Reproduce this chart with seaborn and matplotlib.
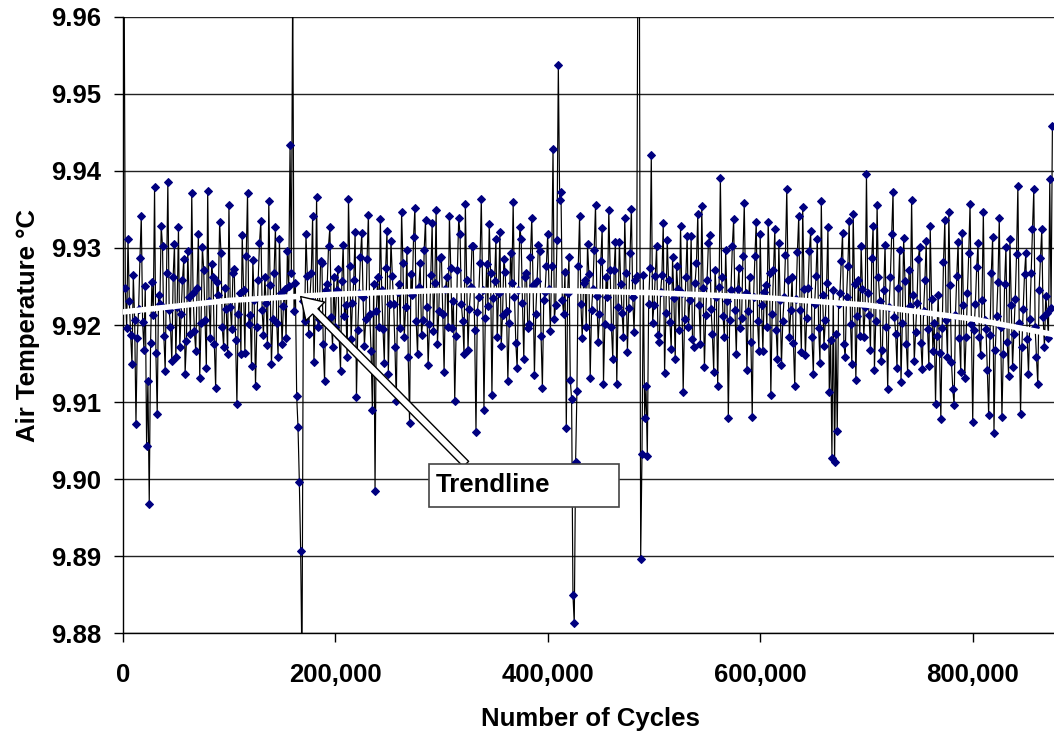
import numpy as np
import pandas as pd
import matplotlib
matplotlib.use('Agg')
import matplotlib.pyplot as plt
import matplotlib.ticker as mticker
from matplotlib.patches import Rectangle
import seaborn as sns

# sampling interval of the logged temperature (cycles)
cycle_step = 1250

# air temperature readings, split in blocks of 100,000 cycles
temp_000k = [9.9720, 9.9690, 9.9248, 9.9196, 9.9312, 9.9231, 9.9187, 9.9149, 9.9265, 9.9207,
             9.9072, 9.9183, 9.9221, 9.9287, 9.9341, 9.9204, 9.9168, 9.9251, 9.9043, 9.9128,
             9.8968, 9.9177, 9.9256, 9.9213, 9.9379, 9.9164, 9.9085, 9.9239, 9.9227, 9.9329,
             9.9302, 9.9186, 9.9141, 9.9267, 9.9385, 9.9219, 9.9198, 9.9153, 9.9263, 9.9305,
             9.9158, 9.9224, 9.9327, 9.9171, 9.9214, 9.9258, 9.9286, 9.9137, 9.9179, 9.9296,
             9.9236, 9.9189, 9.9371, 9.9242, 9.9192, 9.9166, 9.9248, 9.9318, 9.9131, 9.9203,
             9.9301, 9.9272, 9.9207, 9.9144, 9.9374, 9.9231, 9.9183, 9.9279, 9.9262, 9.9175,
             9.9118, 9.9256, 9.9239, 9.9334, 9.9293, 9.9197, 9.9172, 9.9248, 9.9221, 9.9163]
temp_100k = [9.9356, 9.9224, 9.9195, 9.9268, 9.9273, 9.9181, 9.9098, 9.9215, 9.9242, 9.9163,
             9.9317, 9.9246, 9.9164, 9.9289, 9.9371, 9.9202, 9.9213, 9.9147, 9.9284, 9.9233,
             9.9121, 9.9198, 9.9258, 9.9306, 9.9335, 9.9219, 9.9187, 9.9263, 9.9229, 9.9174,
             9.9361, 9.9252, 9.9149, 9.9208, 9.9268, 9.9327, 9.9203, 9.9159, 9.9312, 9.9241,
             9.9176, 9.9225, 9.9247, 9.9183, 9.9296, 9.9251, 9.9434, 9.9268, 9.9650, 9.9218,
             9.9254, 9.9108, 9.9068, 9.8997, 9.8907, 9.8750, 9.9231, 9.9205, 9.9318, 9.9264,
             9.9189, 9.9237, 9.9267, 9.9341, 9.9152, 9.9224, 9.9366, 9.9197, 9.9208, 9.9283,
             9.9281, 9.9176, 9.9127, 9.9246, 9.9253, 9.9303, 9.9327, 9.9211, 9.9172, 9.9262]
temp_200k = [9.9198, 9.9246, 9.9273, 9.9185, 9.9141, 9.9257, 9.9304, 9.9212, 9.9226, 9.9158,
             9.9364, 9.9277, 9.9182, 9.9229, 9.9259, 9.9321, 9.9107, 9.9194, 9.9241, 9.9288,
             9.9319, 9.9236, 9.9173, 9.9208, 9.9286, 9.9343, 9.9215, 9.9167, 9.9090, 9.9253,
             9.8985, 9.9218, 9.9262, 9.9198, 9.9338, 9.9246, 9.9195, 9.9151, 9.9274, 9.9322,
             9.9136, 9.9227, 9.9309, 9.9264, 9.9228, 9.9171, 9.9101, 9.9243, 9.9253, 9.9196,
             9.9347, 9.9281, 9.9184, 9.9223, 9.9297, 9.9158, 9.9073, 9.9266, 9.9239, 9.9314,
             9.9352, 9.9205, 9.9162, 9.9249, 9.9281, 9.9187, 9.9207, 9.9298, 9.9336, 9.9223,
             9.9148, 9.9201, 9.9265, 9.9332, 9.9192, 9.9254, 9.9349, 9.9176, 9.9218, 9.9287]
temp_300k = [9.9288, 9.9215, 9.9139, 9.9247, 9.9263, 9.9198, 9.9342, 9.9274, 9.9196, 9.9231,
             9.9102, 9.9186, 9.9271, 9.9339, 9.9318, 9.9227, 9.9205, 9.9162, 9.9357, 9.9258,
             9.9168, 9.9221, 9.9249, 9.9303, 9.9302, 9.9194, 9.9061, 9.9217, 9.9236, 9.9281,
             9.9363, 9.9246, 9.9090, 9.9209, 9.9279, 9.9225, 9.9331, 9.9268, 9.9109, 9.9235,
             9.9257, 9.9312, 9.9184, 9.9241, 9.9321, 9.9173, 9.9213, 9.9286, 9.9269, 9.9218,
             9.9128, 9.9203, 9.9293, 9.9254, 9.9359, 9.9237, 9.9177, 9.9144, 9.9245, 9.9327,
             9.9312, 9.9229, 9.9156, 9.9262, 9.9268, 9.9196, 9.9201, 9.9288, 9.9339, 9.9252,
             9.9135, 9.9214, 9.9257, 9.9304, 9.9296, 9.9186, 9.9119, 9.9232, 9.9243, 9.9277]
temp_400k = [9.9318, 9.9247, 9.9192, 9.9276, 9.9429, 9.9208, 9.9226, 9.9311, 9.9537, 9.9362,
             9.9372, 9.9233, 9.9214, 9.9269, 9.9067, 9.9241, 9.9288, 9.9129, 9.9104, 9.8850,
             9.8813, 9.9022, 9.9114, 9.9276, 9.9341, 9.9228, 9.9183, 9.9254, 9.9259, 9.9197,
             9.9305, 9.9266, 9.9131, 9.9219, 9.9247, 9.9298, 9.9356, 9.9238, 9.9178, 9.9214,
             9.9283, 9.9326, 9.9124, 9.9201, 9.9262, 9.9236, 9.9349, 9.9272, 9.9197, 9.9156,
             9.9271, 9.9308, 9.9123, 9.9224, 9.9308, 9.9253, 9.9216, 9.9185, 9.9339, 9.9267,
             9.9165, 9.9222, 9.9293, 9.9351, 9.9237, 9.9191, 9.9258, 9.9264, 9.9720, 9.9690,
             9.8897, 9.9033, 9.9265, 9.9080, 9.9121, 9.9030, 9.9228, 9.9274, 9.9421, 9.9203]
temp_500k = [9.9226, 9.9264, 9.9302, 9.9187, 9.9178, 9.9243, 9.9265, 9.9332, 9.9138, 9.9216,
             9.9311, 9.9258, 9.9204, 9.9169, 9.9288, 9.9235, 9.9156, 9.9276, 9.9247, 9.9193,
             9.9329, 9.9241, 9.9113, 9.9208, 9.9262, 9.9316, 9.9197, 9.9233, 9.9315, 9.9182,
             9.9172, 9.9255, 9.9281, 9.9344, 9.9226, 9.9175, 9.9354, 9.9248, 9.9146, 9.9213,
             9.9259, 9.9306, 9.9317, 9.9221, 9.9188, 9.9139, 9.9272, 9.9237, 9.9121, 9.9249,
             9.9391, 9.9262, 9.9212, 9.9185, 9.9298, 9.9231, 9.9079, 9.9207, 9.9246, 9.9302,
             9.9337, 9.9219, 9.9163, 9.9247, 9.9274, 9.9196, 9.9209, 9.9289, 9.9358, 9.9242,
             9.9142, 9.9218, 9.9263, 9.9178, 9.9081, 9.9236, 9.9289, 9.9334, 9.9205, 9.9167]
temp_600k = [9.9318, 9.9226, 9.9167, 9.9243, 9.9252, 9.9197, 9.9334, 9.9268, 9.9109, 9.9215,
             9.9271, 9.9324, 9.9193, 9.9156, 9.9307, 9.9233, 9.9148, 9.9205, 9.9236, 9.9291,
             9.9376, 9.9258, 9.9184, 9.9219, 9.9263, 9.9177, 9.9121, 9.9234, 9.9295, 9.9341,
             9.9219, 9.9165, 9.9353, 9.9247, 9.9161, 9.9209, 9.9248, 9.9296, 9.9322, 9.9184,
             9.9137, 9.9228, 9.9264, 9.9312, 9.9196, 9.9151, 9.9361, 9.9239, 9.9173, 9.9206,
             9.9254, 9.9327, 9.9113, 9.9181, 9.9028, 9.9245, 9.9022, 9.9188, 9.9062, 9.9227,
             9.9241, 9.9283, 9.9319, 9.9176, 9.9158, 9.9237, 9.9276, 9.9335, 9.9201, 9.9149,
             9.9344, 9.9253, 9.9129, 9.9212, 9.9258, 9.9186, 9.9302, 9.9247, 9.9185, 9.9223]
temp_700k = [9.9396, 9.9241, 9.9213, 9.9168, 9.9287, 9.9329, 9.9142, 9.9205, 9.9356, 9.9262,
             9.9231, 9.9153, 9.9168, 9.9246, 9.9304, 9.9198, 9.9117, 9.9224, 9.9262, 9.9318,
             9.9373, 9.9211, 9.9189, 9.9144, 9.9248, 9.9297, 9.9126, 9.9203, 9.9313, 9.9257,
             9.9176, 9.9138, 9.9271, 9.9225, 9.9362, 9.9239, 9.9154, 9.9191, 9.9229, 9.9286,
             9.9301, 9.9177, 9.9143, 9.9218, 9.9258, 9.9309, 9.9195, 9.9147, 9.9328, 9.9234,
             9.9167, 9.9203, 9.9098, 9.9186, 9.9239, 9.9164, 9.9078, 9.9196, 9.9282, 9.9336,
             9.9206, 9.9158, 9.9347, 9.9252, 9.9152, 9.9117, 9.9096, 9.9213, 9.9264, 9.9308,
             9.9183, 9.9139, 9.9319, 9.9226, 9.9132, 9.9184, 9.9241, 9.9293, 9.9357, 9.9202]
temp_800k = [9.9074, 9.9193, 9.9228, 9.9275, 9.9306, 9.9184, 9.9161, 9.9232, 9.9347, 9.9206,
             9.9195, 9.9142, 9.9083, 9.9187, 9.9268, 9.9314, 9.9060, 9.9168, 9.9212, 9.9256,
             9.9339, 9.9198, 9.9081, 9.9163, 9.9253, 9.9301, 9.9178, 9.9134, 9.9312, 9.9226,
             9.9146, 9.9189, 9.9234, 9.9292, 9.9381, 9.9203, 9.9085, 9.9171, 9.9221, 9.9266,
             9.9294, 9.9182, 9.9137, 9.9208, 9.9268, 9.9324, 9.9376, 9.9197, 9.9158, 9.9124,
             9.9245, 9.9287, 9.9324, 9.9211, 9.9172, 9.9238, 9.9216, 9.9183, 9.9390, 9.9222,
             9.9458]

# polynomial trendline
trend_cycles = [0, 100000, 200000, 300000, 400000, 500000, 600000, 700000, 800000, 875000]
trend_temp = [9.9217, 9.9232, 9.9240, 9.9245, 9.9245, 9.9242, 9.9236, 9.9226, 9.9208, 9.9188]

temps = temp_000k + temp_100k + temp_200k + temp_300k + temp_400k + temp_500k + temp_600k + temp_700k + temp_800k
df = pd.DataFrame({'cycles': np.arange(len(temps)) * cycle_step, 'temp': temps})
trend_df = pd.DataFrame({'cycles': trend_cycles, 'temp': trend_temp})

sns.set_theme(style='ticks')
plt.rcParams['font.family'] = ['Liberation Sans', 'DejaVu Sans']
plt.rcParams['font.weight'] = 'bold'

fig = plt.figure(figsize=(10.54, 7.38), dpi=100)
ax = fig.add_axes([0.1164, 0.1416, 0.8836, 0.8358])

sns.lineplot(x='cycles', y='temp', data=df, ax=ax, sort=False, estimator=None,
             color='black', linewidth=0.85, marker='D', markersize=4.4,
             markerfacecolor='#000080', markeredgecolor='#000080', zorder=3)
sns.lineplot(x='cycles', y='temp', data=trend_df, ax=ax, sort=False, estimator=None,
             color='white', linewidth=4.0, zorder=4)

ax.set_xlim(0, 876500)
ax.set_ylim(9.88, 9.96)
ax.set_yticks(np.arange(9.88, 9.9601, 0.01))
ax.set_xticks([0, 200000, 400000, 600000, 800000])
ax.xaxis.set_major_formatter(mticker.FuncFormatter(lambda v, p: '{:,.0f}'.format(v)))
ax.yaxis.set_major_formatter(mticker.FormatStrFormatter('%.2f'))
ax.grid(axis='y', color='#222222', linewidth=1.0, zorder=0)
ax.set_axisbelow(True)

for s in ['top', 'right']:
    ax.spines[s].set_visible(False)
for s in ['left', 'bottom']:
    ax.spines[s].set_color('black')
    ax.spines[s].set_linewidth(1.0)

ax.tick_params(axis='both', direction='out', length=6.5, width=1, color='black',
               labelsize=18.5, labelcolor='black')
ax.tick_params(axis='x', pad=15)
ax.tick_params(axis='y', pad=9)
for lab in ax.get_xticklabels() + ax.get_yticklabels():
    lab.set_fontweight('bold')

ax.set_xlabel('Number of Cycles', fontsize=18.5, fontweight='bold', color='black')
ax.set_ylabel('Air Temperature °C', fontsize=18.5, fontweight='bold', color='black')
ax.xaxis.set_label_coords(0.502, -0.119)
ax.yaxis.set_label_coords(-0.089, 0.5)

# callout box with hollow arrow pointing at the trendline
ax.add_patch(Rectangle((0.329, 0.205), 0.204, 0.070, transform=ax.transAxes,
                       fc='white', ec='#444444', lw=1.2, zorder=6))
ax.text(0.336, 0.240, 'Trendline', transform=ax.transAxes, fontsize=18.5,
        fontweight='bold', color='black', ha='left', va='center', zorder=7)
ax.annotate('', xy=(167500, 9.9237), xytext=(0.3686, 0.2748), textcoords='axes fraction',
            arrowprops=dict(arrowstyle='simple,head_length=0.75,head_width=0.95,tail_width=0.27',
                            mutation_scale=20, fc='white', ec='black', lw=1,
                            shrinkA=0, shrinkB=0),
            zorder=5)

fig.savefig('out.png', dpi=100)
